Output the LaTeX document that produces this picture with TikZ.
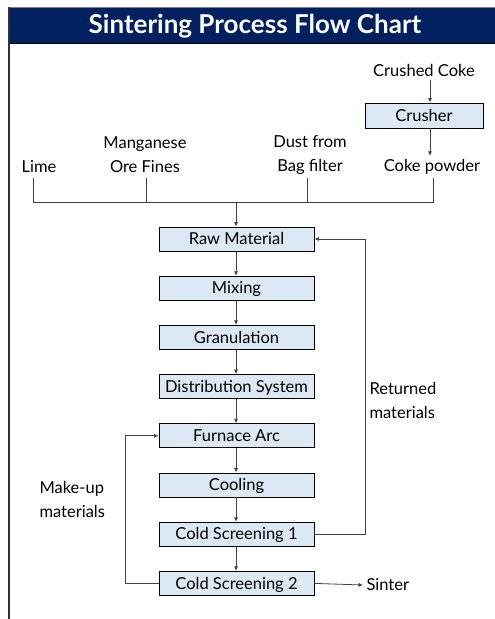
\documentclass[tikz,border=0pt]{standalone}
\usepackage{fontspec}
\setmainfont{Lato}
\usepackage{xcolor}
\usetikzlibrary{arrows.meta}
\definecolor{titlenavy}{HTML}{002060}
\definecolor{boxblue}{HTML}{DCE8F4}

\begin{document}
\begin{tikzpicture}[x=1pt,y=-1pt,
  >={Latex[length=4.5pt,width=4pt]},
  procbox/.style={draw=black,line width=0.9pt,fill=boxblue,minimum width=155pt,minimum height=24pt,inner sep=0pt,text height=11.5pt,text depth=0pt,font=\fontsize{16.5}{18}\selectfont},
  lbl/.style={align=center,font=\fontsize{16.5}{24}\selectfont},
  conn/.style={draw=black!75,line width=0.8pt}]
\useasboundingbox (0,0) rectangle (495,619);

\fill[titlenavy] (8,7) rectangle (495,44);
\draw[gray,line width=1.6pt] (8,7.3) -- (495,7.3);
\draw[black,line width=1pt] (8,43.5) -- (495,43.5);
\draw[black!80,line width=1.6pt] (8.8,7) -- (8.8,619);
\node[text=white,font=\fontsize{26}{30}\bfseries\selectfont] (title) at (255,26) {Sintering Process Flow Chart};

\node[lbl] (cc) at (424,70) {Crushed Coke};
\node[procbox,minimum width=118pt,minimum height=25pt] (crusher) at (424,115.5) {Crusher};
\node[lbl] (ckp) at (432,167) {Coke powder};
\draw[conn,->] (cc.south -| 430,0) -- (crusher.north -| 430,0);
\draw[conn,->] (crusher.south -| 430,0) -- (ckp.north -| 430,0);

\node[lbl] (lime) at (39,167) {Lime};
\node[lbl] (mn) at (145,155) {Manganese\\Ore Fines};
\node[lbl] (dust) at (310,155) {Dust from\\Bag filter};

\coordinate (t1) at (33,178);
\coordinate (t2) at (146,178);
\coordinate (t3) at (307,178);
\coordinate (t4) at (433,178);
\coordinate (jn) at (236,202);
\draw[conn] (t1) -- (t1 |- jn) -- (t4 |- jn) -- (t4);
\draw[conn] (t2) -- (t2 |- jn);
\draw[conn] (t3) -- (t3 |- jn);

\foreach \nm/\txt [count=\i from 0] in {raw/Raw Material,mix/Mixing,gran/Granulation,dist/Distribution System,furn/Furnace Arc,cool/Cooling,csa/Cold Screening 1,csb/Cold Screening 2}
  \node[procbox] (\nm) at (236.5,239+49.2*\i) {\txt};

\draw[conn,->] (jn) -- (raw.north -| jn);
\foreach \a/\b in {raw/mix,mix/gran,gran/dist,dist/furn,furn/cool,cool/csa,csa/csb}
  \draw[conn,->] (\a.south -| jn) -- (\b.north -| jn);

% returned and make-up loops
\draw[conn,->] (csa.east) -| ([xshift=51pt]raw.east) -- (raw.east);
\node[lbl,align=left,anchor=west] (ret) at (366,400.5) {Returned\\materials};
\draw[conn,->] (csb.west) -| ([xshift=-33pt]furn.west) -- (furn.west);
\node[lbl,align=left,anchor=west] (mk) at (36,499.5) {Make-up\\materials};

\node[lbl,anchor=west] (sinter) at (363,585) {Sinter};
\draw[conn,->] (csb.east) -- (sinter.west);
\end{tikzpicture}
\end{document}
